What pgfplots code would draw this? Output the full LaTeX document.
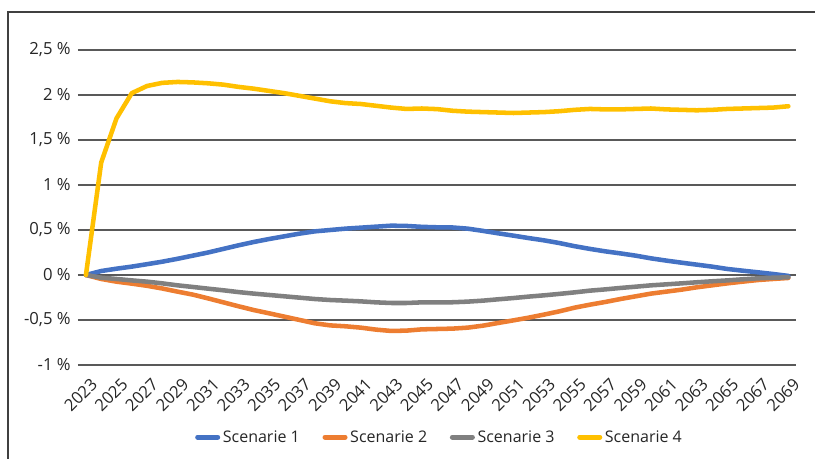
\documentclass[border=0pt]{standalone}
\usepackage{pgfplots}
\pgfplotsset{compat=1.18}
\usepackage{pgfplotstable}
\usepackage{fontspec}
\setmainfont{Open Sans}
\definecolor{s1}{HTML}{4472C4}
\definecolor{s2}{HTML}{ED7D31}
\definecolor{s3}{HTML}{808080}
\definecolor{s4}{HTML}{FFC000}
\pgfplotstableread{
year s1 s2 s3 s4
2023 0.000 0.000 0.000 0.000
2024 0.044 -0.044 -0.030 1.25
2025 0.070 -0.074 -0.044 1.74
2026 0.093 -0.096 -0.060 2.02
2027 0.120 -0.120 -0.074 2.10
2028 0.148 -0.150 -0.093 2.135
2029 0.180 -0.185 -0.115 2.145
2030 0.215 -0.218 -0.133 2.14
2031 0.250 -0.260 -0.152 2.13
2032 0.290 -0.304 -0.170 2.115
2033 0.330 -0.348 -0.190 2.09
2034 0.367 -0.390 -0.207 2.07
2035 0.400 -0.426 -0.222 2.045
2036 0.430 -0.463 -0.237 2.02
2037 0.460 -0.500 -0.252 1.99
2038 0.485 -0.537 -0.267 1.96
2039 0.500 -0.560 -0.278 1.93
2040 0.515 -0.570 -0.285 1.91
2041 0.526 -0.585 -0.293 1.90
2042 0.537 -0.607 -0.304 1.88
2043 0.548 -0.622 -0.311 1.86
2044 0.545 -0.618 -0.311 1.845
2045 0.535 -0.604 -0.304 1.85
2046 0.530 -0.600 -0.304 1.843
2047 0.528 -0.596 -0.303 1.825
2048 0.515 -0.585 -0.296 1.815
2049 0.490 -0.563 -0.285 1.81
2050 0.463 -0.533 -0.270 1.805
2051 0.437 -0.504 -0.256 1.80
2052 0.410 -0.474 -0.240 1.805
2053 0.385 -0.440 -0.226 1.81
2054 0.355 -0.404 -0.210 1.82
2055 0.320 -0.363 -0.193 1.835
2056 0.290 -0.330 -0.174 1.845
2057 0.263 -0.300 -0.160 1.84
2058 0.240 -0.267 -0.144 1.84
2059 0.215 -0.237 -0.130 1.845
2060 0.185 -0.207 -0.115 1.85
2061 0.160 -0.185 -0.104 1.84
2062 0.137 -0.163 -0.093 1.835
2063 0.115 -0.137 -0.081 1.83
2064 0.093 -0.115 -0.070 1.835
2065 0.067 -0.093 -0.060 1.845
2066 0.048 -0.074 -0.048 1.85
2067 0.030 -0.056 -0.037 1.855
2068 0.011 -0.044 -0.030 1.86
2069 -0.010 -0.033 -0.026 1.875
}\data
\begin{document}
\begin{tikzpicture}
\path[use as bounding box] (-58.5pt,-70.5pt) rectangle (552.75pt,273.75pt);
\draw[black!75, line width=1.1pt] (-52.5pt,-72pt) -- (-52.5pt,264.75pt) -- (555pt,264.75pt);
\begin{axis}[
  at={(0pt,0pt)}, anchor=south west,
  scale only axis, width=538.5pt, height=236.25pt,
  xmin=2022.48, xmax=2069.5,
  ymin=-1, ymax=2.5,
  axis line style={draw=none},
  major tick length=0pt,
  ymajorgrids, grid style={black!65, line width=0.9pt},
  ytick={-1,-0.5,0,0.5,1,1.5,2,2.5},
  yticklabels={{-1 \%},{-0,5 \%},{0 \%},{0,5 \%},{1 \%},{1,5 \%},{2 \%},{2,5 \%}},
  xtick={2023,2025,...,2069},
  /pgf/number format/assume math mode=true,
  xticklabel style={/pgf/number format/1000 sep=, xshift=7pt, yshift=-11.5pt, rotate=45, anchor=east, inner sep=1pt},
  ticklabel style={font=\fontsize{12.5pt}{14pt}\selectfont, text=black!85},
  yticklabel style={xshift=-2pt},
  clip=false,
  legend columns=4,
  legend style={at={(0.504,-0.229)}, anchor=center, draw=none, fill=none,
    font=\fontsize{12pt}{14pt}\selectfont, text=black!85,
    /tikz/every even column/.append style={column sep=15pt}},
  legend image code/.code={\draw[#1, line width=3.8pt] (0pt,0pt) -- (15pt,0pt);},
  every axis plot/.append style={line width=3.4pt, line join=round, line cap=round},
]
\addplot[s1, no markers] table[x=year, y=s1] {\data};
\addlegendentry{Scenarie 1}
\addplot[s2, no markers] table[x=year, y=s2] {\data};
\addlegendentry{Scenarie 2}
\addplot[s3, no markers] table[x=year, y=s3] {\data};
\addlegendentry{Scenarie 3}
\addplot[s4, no markers] table[x=year, y=s4] {\data};
\addlegendentry{Scenarie 4}
\end{axis}
\end{tikzpicture}
\end{document}
